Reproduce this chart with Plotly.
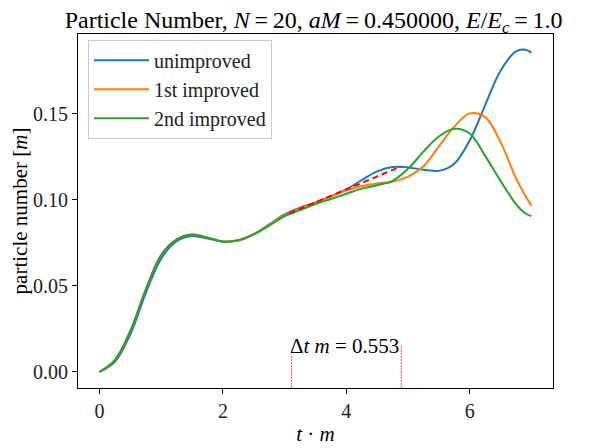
import plotly.graph_objects as go

# ---- data ----
t_vals = [0, 0.25, 0.5, 0.75, 1.0, 1.25, 1.5, 1.75, 2.0, 2.25, 2.5, 2.75, 3.0, 3.25,
          3.5, 3.75, 4.0, 4.25, 4.5, 4.75, 5.0, 5.25, 5.5, 5.75, 6.0, 6.25, 6.5, 6.75, 6.9, 7.0]

unimproved = [0.0, 0.006, 0.022, 0.046, 0.066, 0.076, 0.079, 0.0775, 0.0757, 0.0765, 0.080,
              0.0857, 0.0915, 0.0955, 0.0985, 0.102, 0.106, 0.1115, 0.1165, 0.119, 0.1188,
              0.1175, 0.1168, 0.121, 0.1345, 0.155, 0.175, 0.1862, 0.1872, 0.1855]

first_improved = [0.0, 0.007, 0.024, 0.048, 0.068, 0.077, 0.0798, 0.078, 0.0758, 0.0765, 0.080,
                  0.0855, 0.091, 0.095, 0.0985, 0.102, 0.1055, 0.108, 0.1095, 0.1105, 0.1135,
                  0.1195, 0.131, 0.1425, 0.1502, 0.148, 0.1335, 0.1125, 0.1025, 0.0965]

second_improved = [0.0, 0.007, 0.024, 0.048, 0.068, 0.077, 0.0798, 0.078, 0.0758, 0.0765, 0.080,
                   0.085, 0.0905, 0.094, 0.0975, 0.1005, 0.1035, 0.1065, 0.1085, 0.111, 0.118,
                   0.128, 0.1368, 0.1412, 0.1385, 0.1255, 0.111, 0.0975, 0.0922, 0.0905]

fit_t = [3.08, 4.88]
fit_y = [0.0922, 0.1193]

dt_t = [3.11, 4.89]
dt_top = [0.0099, 0.0157]
dt_label = "Δ<i>t m</i> = 0.553"

series_names = ["unimproved", "1st improved", "2nd improved"]
series_colors = ["#1f77b4", "#ff7f0e", "#2ca02c"]

x_range = [-0.35, 7.35]
y_range = [-0.0093, 0.1963]
x_ticks = [0, 2, 4, 6]
y_ticks = [0.00, 0.05, 0.10, 0.15]

FONT = "Liberation Serif"
EQ = "\u2009=\u2009"

fig = go.Figure()
for name, ys, col in zip(series_names, [unimproved, first_improved, second_improved], series_colors):
    fig.add_trace(go.Scatter(x=t_vals, y=ys, mode="lines", name=name,
                             line=dict(color=col, width=2, shape="spline", smoothing=1.0)))

fig.add_trace(go.Scatter(x=fit_t, y=fit_y, mode="lines", showlegend=False,
                         line=dict(color="red", width=2, dash="6px,4px")))

for tx, top in zip(dt_t, dt_top):
    fig.add_trace(go.Scatter(x=[tx, tx], y=[y_range[0], top], mode="lines", showlegend=False,
                             line=dict(color="#ff5555", width=1, dash="2px,1px")))

fig.add_annotation(x=dt_t[0], y=dt_top[0], text=dt_label, showarrow=False,
                   xanchor="left", yanchor="bottom", xshift=-3, yshift=-5,
                   font=dict(family=FONT, size=21, color="black"))

axis_common = dict(showline=True, linecolor="black", linewidth=1, mirror=True,
                   ticks="outside", ticklen=5, tickcolor="black", showgrid=False,
                   zeroline=False, automargin=False,
                   tickfont=dict(family=FONT, size=20, color="#222"))

title_text = ("Particle Number, <i>N</i>" + EQ + "20, <i>aM</i>" + EQ + "0.450000, "
              "<i>E</i>/<i>E<sub>c</sub></i>" + EQ + "1.0")

# the page body adds an 8px offset, so margins are shifted by 8px
fig.update_layout(
    width=604, height=448,
    margin=dict(l=70, r=59, t=26, b=68, pad=0),
    paper_bgcolor="white", plot_bgcolor="white",
    title=dict(text=title_text,
               x=0.506, xanchor="center", y=0.993, yanchor="top", pad=dict(t=0, b=0),
               font=dict(family=FONT, size=24, color="black")),
    xaxis=dict(range=x_range, tickvals=x_ticks, ticktext=[str(v) for v in x_ticks],
               title=dict(text="<i>t</i> · <i>m</i>", font=dict(family=FONT, size=21, color="black"),
                          standoff=5),
               **axis_common),
    yaxis=dict(range=y_range, tickvals=y_ticks, ticktext=[f"{v:.2f}" for v in y_ticks],
               title=dict(text="particle number [<i>m</i>]", font=dict(family=FONT, size=21, color="black"),
                          standoff=3),
               **axis_common),
    legend=dict(x=0.021, y=0.984, xanchor="left", yanchor="top",
                bgcolor="rgba(255,255,255,0.8)", bordercolor="#cccccc", borderwidth=1,
                font=dict(family=FONT, size=20, color="#222"), tracegroupgap=0,
                itemwidth=55),
    showlegend=True,
)

fig.write_html("out.html")
